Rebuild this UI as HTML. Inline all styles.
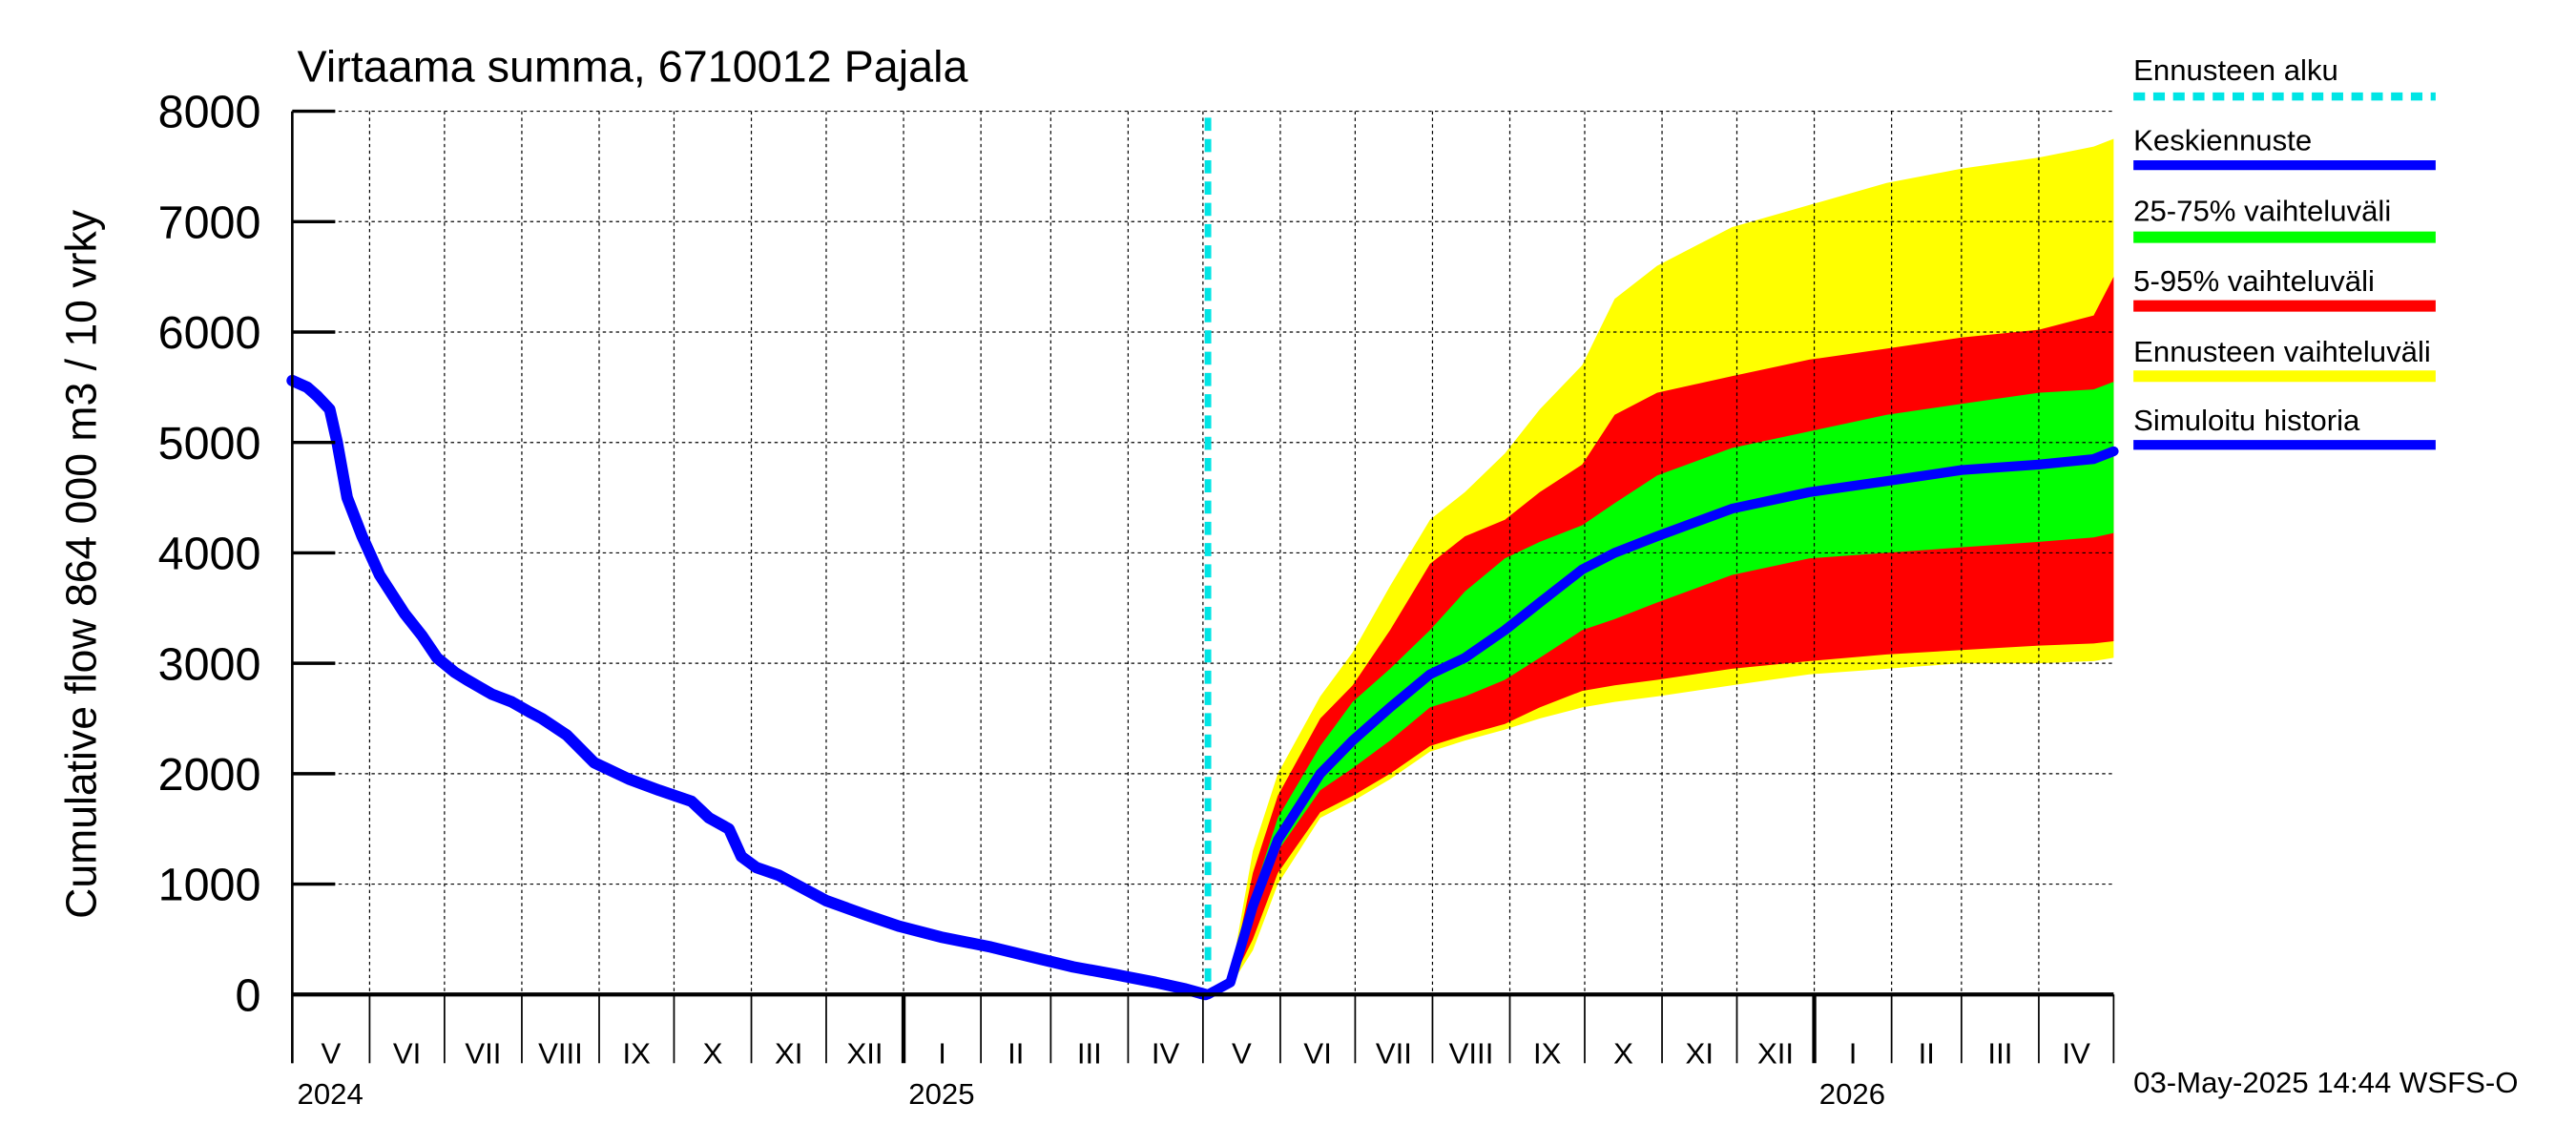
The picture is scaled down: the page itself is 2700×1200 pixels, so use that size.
<!DOCTYPE html>
<html><head><meta charset="utf-8"><style>html,body{margin:0;padding:0;background:#fff}svg{display:block}text{font-family:"Liberation Sans",sans-serif}</style></head>
<body>
<svg id="chart" width="2700" height="1200" viewBox="0 0 1560 700" preserveAspectRatio="none" xmlns="http://www.w3.org/2000/svg">
<rect width="1560" height="700" fill="#fff"/>
<g id="bands"></g>
<g id="grid"></g>
<g id="lines"></g>
<g id="axes"></g>
<text x="180" y="50" font-size="27">Virtaama summa, 6710012 Pajala</text>
<text transform="translate(58,345) rotate(-90)" text-anchor="middle" font-size="26">Cumulative flow    864 000 m3 / 10 vrky</text>
<g font-size="18">
<text x="1292" y="49">Ennusteen alku</text>
<line x1="1292" y1="59" x2="1475" y2="59" stroke="#00e5e5" stroke-width="5" stroke-dasharray="7,5"/>
<text x="1292" y="92">Keskiennuste</text>
<line x1="1292" y1="101" x2="1475" y2="101" stroke="#0000ff" stroke-width="6"/>
<text x="1292" y="135">25-75% vaihteluväli</text>
<line x1="1292" y1="145" x2="1475" y2="145" stroke="#00ff00" stroke-width="7"/>
<text x="1292" y="178">5-95% vaihteluväli</text>
<line x1="1292" y1="187" x2="1475" y2="187" stroke="#ff0000" stroke-width="7"/>
<text x="1292" y="221">Ennusteen vaihteluväli</text>
<line x1="1292" y1="230" x2="1475" y2="230" stroke="#ffff00" stroke-width="7"/>
<text x="1292" y="263">Simuloitu historia</text>
<line x1="1292" y1="272" x2="1475" y2="272" stroke="#0000ff" stroke-width="6"/>
</g>
<text x="1292" y="668" font-size="18">03-May-2025 14:44 WSFS-O</text>
</svg>
<script>
const yTicks=[0,1000,2000,3000,4000,5000,6000,7000,8000];
const monthLabels=["V","VI","VII","VIII","IX","X","XI","XII","I","II","III","IV","V","VI","VII","VIII","IX","X","XI","XII","I","II","III","IV"];
const yearLabels=["2024","2025","2026"];
const yearMonthIdx=[0,8,20];
const histDays=[0,6,10,15,18,22,28,35,45,52,58,65,70,80,88,95,100,110,121,135,147,160,167,175,180,186,195,214,230,243,260,280,300,313,330,346,358,366];
const histVals=[5560,5500,5420,5300,5000,4500,4150,3800,3450,3250,3050,2920,2850,2720,2650,2560,2500,2350,2100,1950,1850,1750,1600,1500,1250,1150,1080,850,720,620,520,430,320,250,180,110,50,0];
const fcDays=[367,376,385,395,412,425,440,456,470,486,500,517,530,547,577,608,639,669,700,722,730];
const fcMin=[0,80,400,1000,1600,1750,1950,2200,2300,2400,2500,2600,2650,2700,2800,2900,2950,3000,3000,3020,3050];
const fcP5=[0,90,500,1100,1650,1800,2000,2250,2350,2450,2600,2750,2800,2850,2950,3020,3080,3120,3160,3180,3200];
const fcP25=[0,100,700,1300,1850,2050,2300,2600,2700,2850,3050,3300,3400,3550,3800,3950,4000,4050,4100,4140,4180];
const fcMed=[0,110,800,1400,2000,2300,2600,2900,3050,3300,3550,3850,4000,4150,4400,4550,4650,4750,4800,4850,4920];
const fcP75=[0,120,900,1600,2250,2650,2950,3300,3650,3950,4100,4250,4450,4700,4950,5100,5250,5350,5450,5480,5550];
const fcP95=[0,130,1100,1800,2500,2800,3300,3900,4150,4300,4550,4800,5250,5450,5600,5750,5850,5950,6020,6150,6500];
const fcMax=[0,150,1300,2000,2700,3100,3700,4300,4550,4900,5300,5700,6300,6600,6950,7150,7350,7480,7580,7680,7750];
const X0=177,X1=1280,Y0=608,Y8=68,DAYS=730;
const xS=d=>X0+d*(X1-X0)/DAYS;
const yS=v=>Y0-v*(Y0-Y8)/8000;
const NS="http://www.w3.org/2000/svg";
function mk(tag,attrs,parent){const e=document.createElementNS(NS,tag);for(const k in attrs)e.setAttribute(k,attrs[k]);parent.appendChild(e);return e;}
const grid=document.getElementById('grid'),axes=document.getElementById('axes'),bands=document.getElementById('bands'),lines=document.getElementById('lines');
const mlen=[31,30,31,31,30,31,30,31,31,28,31,30,31,30,31,31,30,31,30,31,31,28,31,30];
let mb=[0];for(const l of mlen)mb.push(mb[mb.length-1]+l);
yTicks.forEach(v=>{
 if(v>0){const g=mk('line',{x1:X0,x2:X1,y1:yS(v),y2:yS(v),stroke:'#000','stroke-width':0.7,'stroke-dasharray':'2,2'},grid);
 }
 const t=mk('line',{x1:X0,x2:X0+26,y1:yS(v),y2:yS(v),stroke:'#000','stroke-width':2},axes);
 
 const l=mk('text',{x:158,y:yS(v)+10,'text-anchor':'end','font-size':28},axes);l.textContent=v;
 
});
mb.forEach((d,i)=>{
 if(i>0&&i<mb.length-1){const g=mk('line',{x1:xS(d),x2:xS(d),y1:Y8,y2:Y0,stroke:'#000','stroke-width':0.7,'stroke-dasharray':'2,2'},grid);
 }
 const yr=yearMonthIdx.includes(i)&&i>0;
 const t=mk('line',{x1:xS(d),x2:xS(d),y1:Y0,y2:650,stroke:'#000','stroke-width':yr?2.5:1},axes);
 
 if(i<monthLabels.length){const l=mk('text',{x:(xS(d)+xS(mb[i+1]))/2,y:650,'text-anchor':'middle','font-size':18},axes);l.textContent=monthLabels[i];
 }
});
yearLabels.forEach((y,i)=>{const l=mk('text',{x:xS(mb[yearMonthIdx[i]])+3,y:675,'font-size':18},axes);l.textContent=y;
 });
const la=mk('line',{x1:X0,x2:X0,y1:Y8,y2:650,stroke:'#000','stroke-width':1.5},axes);
const ba=mk('line',{x1:X0,x2:X1,y1:Y0,y2:Y0,stroke:'#000','stroke-width':2.5},axes);
function band(lo,hi,fill,name){let p=fcDays.map((d,i)=>xS(d)+','+yS(hi[i]));p=p.concat(fcDays.map((d,i)=>xS(d)+','+yS(lo[i])).reverse());
 const e=mk('polygon',{points:p.join(' '),fill:fill},bands);}
band(fcMin,fcMax,'#ffff00','band-range');
band(fcP5,fcP95,'#ff0000','band-5-95');
band(fcP25,fcP75,'#00ff00','band-25-75');
const fs=mk('line',{x1:xS(367),x2:xS(367),y1:Y8+4,y2:Y0,stroke:'#00e5e5','stroke-width':4,'stroke-dasharray':'8,5'},lines);

const h=mk('polyline',{points:histDays.map((d,i)=>xS(d)+','+yS(histVals[i])).join(' '),fill:'none',stroke:'#0000ff','stroke-width':7,'stroke-linejoin':'round','stroke-linecap':'round'},lines);

const m=mk('polyline',{points:fcDays.map((d,i)=>xS(d)+','+yS(fcMed[i])).join(' '),fill:'none',stroke:'#0000ff','stroke-width':6,'stroke-linejoin':'round','stroke-linecap':'round'},lines);

</script>
</body></html>
